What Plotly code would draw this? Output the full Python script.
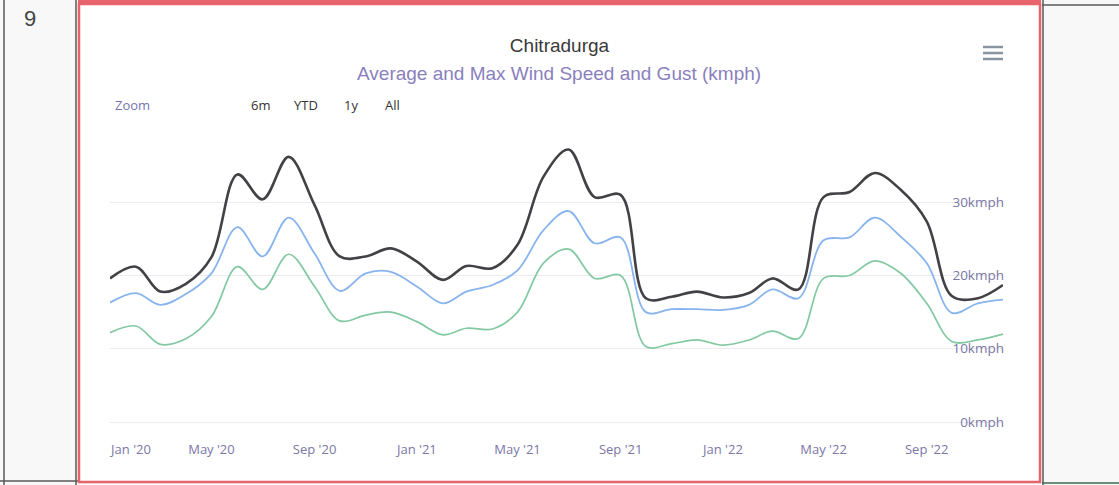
import pandas as pd
import plotly.graph_objects as go

# ---------------- data (monthly) ----------------
months = pd.date_range("2020-01-01", "2022-12-01", freq="MS")

gust_kmph = [19.6, 21.2, 17.8, 18.9, 22.5, 33.8, 30.4, 36.2, 29.6, 22.6, 22.6, 23.7,
             21.9, 19.4, 21.3, 21.0, 24.2, 33.5, 37.2, 30.7, 31.0, 16.9, 17.1, 17.8,
             17.0, 17.6, 19.6, 18.1, 30.7, 31.4, 34.0, 31.7, 27.4, 17.2, 16.9, 18.7]
max_wind_kmph = [16.3, 17.6, 16.0, 17.5, 20.3, 26.6, 22.6, 27.9, 23.0, 17.9, 20.3, 20.5,
                 18.5, 16.2, 17.8, 18.7, 20.7, 26.2, 28.8, 24.4, 25.2, 15.0, 15.4, 15.4,
                 15.3, 16.0, 18.1, 16.9, 24.8, 25.2, 27.9, 25.3, 21.7, 14.9, 16.2, 16.7]
avg_wind_kmph = [12.2, 13.1, 10.6, 11.4, 14.4, 21.2, 18.1, 22.9, 18.5, 13.8, 14.6, 15.0,
                 13.7, 11.9, 12.8, 12.7, 15.0, 21.7, 23.6, 19.6, 20.0, 10.3, 10.7, 11.2,
                 10.5, 11.2, 12.4, 11.4, 19.6, 20.0, 22.0, 20.3, 16.2, 11.0, 11.2, 12.0]

x_tick_dates = ["2020-01-01", "2020-05-01", "2020-09-01", "2021-01-01", "2021-05-01",
                "2021-09-01", "2022-01-01", "2022-05-01", "2022-09-01"]
x_tick_labels = ["Jan '20", "May '20", "Sep '20", "Jan '21", "May '21",
                 "Sep '21", "Jan '22", "May '22", "Sep '22"]
y_tick_vals = [0, 10, 20, 30]
y_tick_labels = ["0kmph", "10kmph", "20kmph", "30kmph"]

# ---------------- layout geometry ----------------
W, H = 1119, 485
L, R, T, B = 110, 1003, 129, 433     # plot area in pixels
ZERO_PX = 422                        # pixel row of the 0 value
YMAX = 40
Y_SCALE = (ZERO_PX - T) / YMAX       # px per kmph
YMIN = -(B - ZERO_PX) / Y_SCALE


def px(x):
    return (x - L) / (R - L)


def py(y):
    return (B - y) / (B - T)


fig = go.Figure()
fig.add_trace(go.Scatter(x=months, y=avg_wind_kmph, name="Average Wind Speed",
                         mode="lines", line=dict(color="#82c9a2", width=1.7, shape="spline")))
fig.add_trace(go.Scatter(x=months, y=max_wind_kmph, name="Max Wind Speed",
                         mode="lines", line=dict(color="#88b4ee", width=1.8, shape="spline")))
fig.add_trace(go.Scatter(x=months, y=gust_kmph, name="Gust",
                         mode="lines", line=dict(color="#414146", width=2.6, shape="spline")))

# first label is pushed right (left-aligned to the plot edge) like the original
tick_positions = list(pd.to_datetime(x_tick_dates))
tick_positions[0] = tick_positions[0] + pd.Timedelta(days=25)

label_color = "#7a76a6"

fig.update_layout(
    width=W, height=H,
    margin=dict(l=L, r=W - R, t=T, b=H - B),
    paper_bgcolor="#f8f8f8",
    plot_bgcolor="white",
    showlegend=False,
    font=dict(family="Open Sans", color="#333333"),
    title=dict(text="Chitradurga", x=0.5, xref="container", xanchor="center",
               y=1 - 45 / H, yref="container", yanchor="middle",
               font=dict(family="Liberation Sans", size=19, color="#3a3a3a")),
    xaxis=dict(range=["2020-01-01", "2022-12-01"], tickmode="array",
               tickvals=tick_positions, ticktext=x_tick_labels,
               showgrid=False, zeroline=False, showline=False,
               ticks="outside", ticklen=4, tickcolor="rgba(0,0,0,0)",
               tickfont=dict(family="Open Sans", size=13, color=label_color)),
    yaxis=dict(range=[YMIN, YMAX], side="right", tickmode="array",
               tickvals=y_tick_vals, ticktext=y_tick_labels,
               ticklabelposition="inside", ticklabelstandoff=-4,
               showgrid=True, gridcolor="#ececec",
               gridwidth=1, zeroline=False, showline=False, ticks="",
               tickfont=dict(family="Open Sans", size=13.5, color=label_color)),
)

# ---------- annotations (subtitle, range selector text, row number) ----------
ann = [
    dict(text="Average and Max Wind Speed and Gust (kmph)", x=px(559), y=py(73),
         font=dict(family="Liberation Sans", size=19, color="#8a7fbd")),
    dict(text="Zoom", x=px(132), y=py(105), font=dict(size=13, color="#7676ae")),
    dict(text="6m", x=px(260), y=py(105), font=dict(size=13, color="#333333")),
    dict(text="YTD", x=px(306), y=py(105), font=dict(size=13, color="#333333")),
    dict(text="1y", x=px(351), y=py(105), font=dict(size=13, color="#333333")),
    dict(text="All", x=px(392), y=py(105), font=dict(size=13, color="#333333")),
    dict(text="9", x=px(30), y=py(19), font=dict(family="Liberation Sans", size=22, color="#444444")),
]
for a in ann:
    fig.add_annotation(xref="paper", yref="paper", showarrow=False,
                       xanchor="center", yanchor="middle", **a)

# ---------- frame decorations ----------
shapes = []
shapes.append(dict(type="rect", x0=px(79), x1=px(1040), y0=py(4), y1=py(481),
                   fillcolor="white", line=dict(width=0), layer="below"))
gray = "#5a5a5a"
shapes += [
    dict(type="line", x0=px(4), x1=px(4), y0=py(0), y1=py(485), line=dict(color=gray, width=1.5)),
    dict(type="line", x0=px(76), x1=px(76), y0=py(0), y1=py(485), line=dict(color=gray, width=1.5)),
    dict(type="line", x0=px(0), x1=px(78), y0=py(481), y1=py(481), line=dict(color=gray, width=1.5)),
    dict(type="line", x0=px(1043), x1=px(1043), y0=py(0), y1=py(485), line=dict(color=gray, width=1.5)),
    dict(type="line", x0=px(1042), x1=px(1119), y0=py(5), y1=py(5), line=dict(color=gray, width=1.5)),
    dict(type="line", x0=px(1042), x1=px(1119), y0=py(483), y1=py(483), line=dict(color="#3f6a55", width=1.5)),
]
red = "#e8646c"
shapes += [
    dict(type="rect", x0=px(79), x1=px(1040), y0=py(4), y1=py(482), line=dict(color=red, width=2.5)),
    dict(type="line", x0=px(78), x1=px(1041), y0=py(2), y1=py(2), line=dict(color=red, width=4)),
]
for yy in (47, 53, 59):
    shapes.append(dict(type="line", x0=px(983), x1=px(1003), y0=py(yy), y1=py(yy),
                       line=dict(color="#8894a2", width=2.5)))
for s in shapes:
    fig.add_shape(xref="paper", yref="paper", **s)

fig.write_html("out.html", config={"displayModeBar": False},
               post_script="document.body.style.margin='0';document.body.style.overflow='hidden';")
